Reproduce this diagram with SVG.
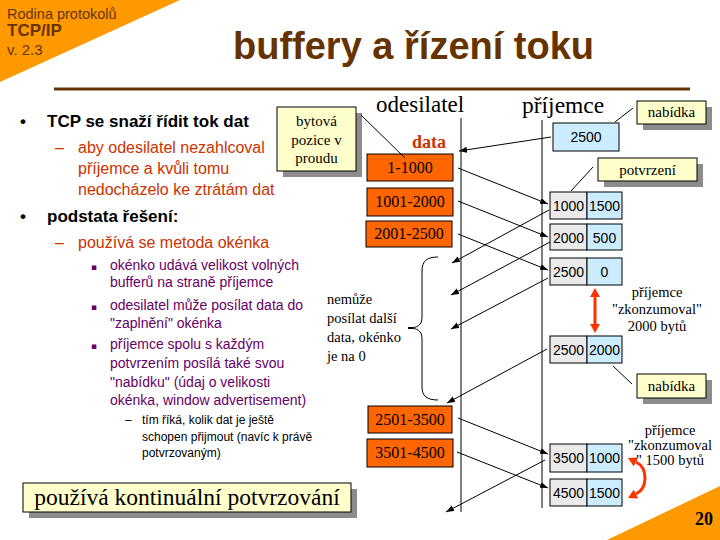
<svg xmlns="http://www.w3.org/2000/svg" width="720" height="540" viewBox="0 0 720 540">
<style>
.sans{font-family:"Liberation Sans",Arial,sans-serif}
.serif{font-family:"Liberation Serif","Times New Roman",serif}
.brown{fill:#663300}
.red{fill:#CC3300}
.purple{fill:#660066}
.lvl1{font-family:"Liberation Sans",Arial,sans-serif;font-size:17px;font-weight:bold;fill:#000}
.lvl2{font-family:"Liberation Sans",Arial,sans-serif;font-size:16px;fill:#CC3300}
.lvl3{font-family:"Liberation Sans",Arial,sans-serif;font-size:14px;fill:#660066}
.lvl4{font-family:"Liberation Sans",Arial,sans-serif;font-size:12px;fill:#000}
.data rect{fill:#FF6600;stroke:#000;stroke-width:1}
.data text{font-family:"Liberation Serif","Times New Roman",serif;font-size:16px;text-anchor:middle;fill:#000}
.call rect.bg{fill:#FFFFCC;stroke:#000;stroke-width:1}
.call rect.sh{fill:#8C8C8C}
.call text{font-family:"Liberation Serif","Times New Roman",serif;font-size:15px;text-anchor:middle;fill:#000}
.call text.big{font-size:23.5px}
.pair rect.g{fill:#EAEAEA;stroke:#000;stroke-width:1}
.pair rect.b{fill:#CCECFF;stroke:#000;stroke-width:1}
.pair text{font-family:"Liberation Sans",Arial,sans-serif;font-size:14px;text-anchor:middle;fill:#000}
.note{font-family:"Liberation Serif","Times New Roman",serif;font-size:14.5px;fill:#000}
.conn line,.conn path{stroke:#000;stroke-width:1;fill:none}
.arr{marker-end:url(#ah)}
</style>
<defs>
<marker id="ah" markerUnits="userSpaceOnUse" markerWidth="9" markerHeight="7" refX="8" refY="3" orient="auto">
<path d="M0,0 L8,3 L0,6 z" fill="#000"/>
</marker>
<marker id="rh" markerUnits="userSpaceOnUse" markerWidth="10" markerHeight="10" refX="0" refY="5" orient="auto-start-reverse">
<path d="M0,0 L9,5 L0,10 z" fill="#FF3300"/>
</marker>
</defs>
<rect x="0" y="0" width="720" height="540" fill="#fff"/>
<g id="corner-top">
<polygon points="0,0 180,0 0,82" fill="#FF9900"/>
<text x="7" y="19" class="sans brown" font-size="14.5">Rodina protokolů</text>
<text x="7" y="36" class="sans brown" font-size="17" font-weight="bold">TCP/IP</text>
<text x="7" y="55" class="sans brown" font-size="15">v. 2.3</text>
</g>
<g id="corner-bottom">
<polygon points="607,540 720,486 720,540" fill="#FF9900"/>
<text x="713" y="525" class="serif" font-size="18" font-weight="bold" text-anchor="end">20</text>
</g>
<g id="title">
<text x="233" y="59" class="sans brown" font-size="38" font-weight="bold">buffery a řízení toku</text>
<rect x="54" y="87.5" width="636" height="3" fill="#663300"/>
</g>
<g id="bullets">
<text x="20" y="127" class="lvl1">•</text>
<text x="47" y="127" class="lvl1">TCP se snaží řídit tok dat</text>
<text x="55" y="153" class="lvl2">–</text>
<text x="78" y="153" class="lvl2">aby odesilatel nezahlcoval</text>
<text x="78" y="174" class="lvl2">příjemce a kvůli tomu</text>
<text x="78" y="195" class="lvl2">nedocházelo ke ztrátám dat</text>
<text x="20" y="222" class="lvl1">•</text>
<text x="47" y="222" class="lvl1">podstata řešení:</text>
<text x="55" y="248" class="lvl2">–</text>
<text x="78" y="248" class="lvl2">používá se metoda okénka</text>
<text x="91" y="270" class="purple" font-family="DejaVu Sans,sans-serif" font-size="9">▪</text>
<text x="110" y="270" class="lvl3">okénko udává velikost volných</text>
<text x="110" y="287" class="lvl3">bufferů na straně příjemce</text>
<text x="91" y="310" class="purple" font-family="DejaVu Sans,sans-serif" font-size="9">▪</text>
<text x="110" y="310" class="lvl3">odesilatel může posílat data do</text>
<text x="110" y="328" class="lvl3">"zaplnění" okénka</text>
<text x="91" y="349" class="purple" font-family="DejaVu Sans,sans-serif" font-size="9">▪</text>
<text x="110" y="349" class="lvl3">příjemce spolu s každým</text>
<text x="110" y="368" class="lvl3">potvrzením posílá také svou</text>
<text x="110" y="387" class="lvl3">"nabídku" (údaj o velikosti</text>
<text x="110" y="405" class="lvl3">okénka, window advertisement)</text>
<text x="125" y="424" class="lvl4">–</text>
<text x="142" y="424" class="lvl4">tím říká, kolik dat je ještě</text>
<text x="142" y="441" class="lvl4">schopen přijmout (navíc k právě</text>
<text x="142" y="457" class="lvl4">potvrzovaným)</text>
</g>
<g id="box-kontinualni" class="call">
<rect class="sh" x="29" y="489" width="328" height="29"/>
<rect class="bg" x="23" y="483" width="328" height="29"/>
<text class="big" x="187" y="505">používá kontinuální potvrzování</text>
</g>
<g id="label-odesilatel"><text x="376" y="112" class="serif" font-size="23">odesilatel</text></g>
<g id="label-prijemce"><text x="522" y="113" class="serif" font-size="23.5">příjemce</text></g>
<g id="label-data"><text x="412" y="148" class="serif red" font-size="18" font-weight="bold">data</text></g>
<g id="call-bytova" class="call">
<rect class="sh" x="283" y="113" width="79" height="64"/>
<rect class="bg" x="277" y="107" width="79" height="64"/>
<text x="316.5" y="126">bytová</text>
<text x="316.5" y="145">pozice v</text>
<text x="316.5" y="163">proudu</text>
</g>
<g id="d1" class="data"><rect x="367" y="154" width="86" height="27"/><text x="410" y="173">1-1000</text></g>
<g id="d2" class="data"><rect x="367" y="188" width="86" height="28"/><text x="410" y="207">1001-2000</text></g>
<g id="d3" class="data"><rect x="366" y="221" width="86" height="26"/><text x="409" y="239">2001-2500</text></g>
<g id="d4" class="data"><rect x="368" y="406" width="84" height="27"/><text x="410" y="425">2501-3500</text></g>
<g id="d5" class="data"><rect x="367" y="439" width="86" height="28"/><text x="410" y="458">3501-4500</text></g>
<g id="w0"><rect x="553" y="123" width="66" height="28" fill="#CCECFF" stroke="#000"/><text x="586" y="142" class="sans" font-size="14" text-anchor="middle">2500</text></g>
<g id="call-nabidka1" class="call">
<rect class="sh" x="643" y="107" width="69" height="23"/>
<rect class="bg" x="637" y="101" width="69" height="23"/>
<text x="671.5" y="117">nabídka</text>
</g>
<g id="call-potvrzeni" class="call">
<rect class="sh" x="604" y="164" width="99" height="23"/>
<rect class="bg" x="598" y="158" width="99" height="23"/>
<text x="647.5" y="175">potvrzení</text>
</g>
<g id="call-nabidka2" class="call">
<rect class="sh" x="643" y="380" width="69" height="24"/>
<rect class="bg" x="637" y="374" width="69" height="24"/>
<text x="671.5" y="391">nabídka</text>
</g>
<g id="r1" class="pair"><rect class="g" x="550" y="192" width="37" height="27"/><rect class="b" x="587" y="192" width="35" height="27"/><text x="568.5" y="211">1000</text><text x="604.5" y="211">1500</text></g>
<g id="r2" class="pair"><rect class="g" x="550" y="224" width="37" height="26"/><rect class="b" x="587" y="224" width="35" height="26"/><text x="568.5" y="242.5">2000</text><text x="604.5" y="242.5">500</text></g>
<g id="r3" class="pair"><rect class="g" x="550" y="258" width="37" height="27"/><rect class="b" x="587" y="258" width="35" height="27"/><text x="568.5" y="277">2500</text><text x="604.5" y="277">0</text></g>
<g id="r4" class="pair"><rect class="g" x="550" y="336" width="37" height="27"/><rect class="b" x="587" y="336" width="35" height="27"/><text x="568.5" y="355">2500</text><text x="604.5" y="355">2000</text></g>
<g id="r5" class="pair"><rect class="g" x="550" y="444" width="37" height="28"/><rect class="b" x="587" y="444" width="35" height="28"/><text x="568.5" y="463">3500</text><text x="604.5" y="463">1000</text></g>
<g id="r6" class="pair"><rect class="g" x="550" y="479" width="37" height="27"/><rect class="b" x="587" y="479" width="35" height="27"/><text x="568.5" y="498">4500</text><text x="604.5" y="498">1500</text></g>
<g id="note-nemuze">
<text x="327" y="304" class="note" font-size="15.5">nemůže</text>
<text x="327" y="323" class="note" font-size="15.5">posílat další</text>
<text x="327" y="342" class="note" font-size="15.5">data, okénko</text>
<text x="327" y="361" class="note" font-size="15.5">je na 0</text>
</g>
<g id="note-2000">
<text x="657" y="297" class="note" text-anchor="middle">příjemce</text>
<text x="657" y="314" class="note" text-anchor="middle">"zkonzumoval"</text>
<text x="657" y="331" class="note" text-anchor="middle">2000 bytů</text>
</g>
<g id="note-1500">
<text x="670" y="435" class="note" text-anchor="middle">příjemce</text>
<text x="670" y="450" class="note" text-anchor="middle">"zkonzumoval</text>
<text x="670" y="465" class="note" text-anchor="middle">" 1500 bytů</text>
</g>
<g id="connectors" class="conn">
<line x1="461" y1="118" x2="461" y2="512"/>
<line x1="542" y1="120" x2="542" y2="508"/>
<path d="M438,257 C427,257 422,261 422,271 L422,317 C422,325 418,328 408,328 C418,328 422,331 422,339 L422,387 C422,396 427,400 438,400"/>
<line x1="408" y1="328" x2="413" y2="328" style="stroke-width:2"/>
<line x1="361" y1="115" x2="405" y2="158"/>
<line x1="615" y1="122" x2="633" y2="108"/>
<line x1="571" y1="191" x2="593" y2="167"/>
<line x1="613" y1="366" x2="632" y2="384"/>
<line class="arr" x1="458" y1="168" x2="548" y2="204"/>
<line class="arr" x1="458" y1="201" x2="548" y2="237"/>
<line class="arr" x1="458" y1="234" x2="548" y2="270"/>
<line class="arr" x1="458" y1="418" x2="548" y2="454"/>
<line class="arr" x1="457" y1="452" x2="548" y2="488"/>
<line class="arr" x1="551" y1="137" x2="459" y2="151"/>
<line class="arr" x1="549" y1="210" x2="452" y2="263"/>
<line class="arr" x1="550" y1="242" x2="451" y2="295"/>
<line class="arr" x1="548" y1="278" x2="451" y2="329"/>
<line class="arr" x1="547" y1="349" x2="447" y2="403"/>
<line class="arr" x1="545" y1="460" x2="446" y2="512"/>
<line x1="595" y1="297" x2="595" y2="324" style="stroke:#FF3300;stroke-width:3" marker-start="url(#rh)" marker-end="url(#rh)"/>
<path d="M636,462 C648,468 648,488 636,494" style="stroke:#FF3300;stroke-width:3" marker-start="url(#rh)" marker-end="url(#rh)"/>
</g>
</svg>
